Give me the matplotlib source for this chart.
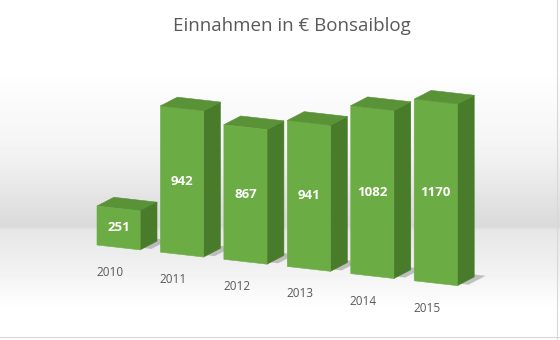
import matplotlib
matplotlib.use("Agg")
import matplotlib.pyplot as plt
from matplotlib.colors import to_rgba
from matplotlib.lines import Line2D
from matplotlib.text import Text
from mpl_toolkits.mplot3d import proj3d
import numpy as np

# --- data -----------------------------------------------------------------
YEARS = ["2010", "2011", "2012", "2013", "2014", "2015"]
VALUES = [251, 942, 867, 941, 1082, 1170]
TITLE = "Einnahmen in \u20ac Bonsaiblog"

# --- style ----------------------------------------------------------------
FRONT = "#6CAC45"
SIDE = "#487C2A"
TOP = "#5A9237"
TEXT_GREY = "#595959"

BAR_W = 0.68      # bar width in x units
BAR_D = 0.57      # bar depth in x units
PX_X = 70.0       # px per x unit
PX_Z = 0.16       # px per euro
ELEV, AZIM = 14, -65

W_PX, H_PX = 560, 340
S_PX = 330        # side of the (square) 3d axes in px

fig = plt.figure(figsize=(W_PX / 100, H_PX / 100), dpi=100)
fig.patch.set_facecolor("white")

# background: soft grey wall/floor gradient drawn straight onto the figure
rows = np.arange(H_PX)
grey = np.interp(rows, [0, 70, 150, 226, 230, 260, 310, 340],
                 [1.0, 1.0, 0.955, 0.855, 0.905, 0.935, 1.0, 1.0])
fig.figimage(np.repeat(grey[:, None], W_PX, axis=1), cmap="gray",
             vmin=0, vmax=1, origin="upper", zorder=0)
fig.add_artist(Line2D([1 - 3 / W_PX] * 2, [0, 1], color="#d8d8d8", lw=0.8))
fig.add_artist(Line2D([0, 1], [3 / H_PX] * 2, color="#d8d8d8", lw=0.8))

# 3d axes: orthographic view, scaled so 1 x unit = PX_X px
xlim = (-0.5, len(YEARS) - 0.5)
ylim = (0.0, 0.6)
zlim = (0.0, 1200.0)
unit = S_PX / 1.85
box = np.array([(xlim[1] - xlim[0]) * PX_X / unit,
                (ylim[1] - ylim[0]) * PX_X / unit,
                (zlim[1] - zlim[0]) * PX_Z / unit])
zoom = np.linalg.norm(box) / (1.8294640721620434 * 25 / 24)

# anchor: front-left-bottom corner of first bar at image px (97, 245)
e, a = np.deg2rad(ELEV), np.deg2rad(-AZIM)
cx = 2.5 + BAR_W / 2
right = cx * PX_X * np.sin(a) + 0.3 * PX_X * np.cos(a)
up = (-cx * PX_X * np.sin(e) * np.cos(a) + 0.3 * PX_X * np.sin(e) * np.sin(a)
      + 600 * PX_Z * np.cos(e))
ctr_x = 97 + right
ctr_y = H_PX - (245 - up)
frac = 0.095 / 0.185
left = (ctr_x - frac * S_PX) / W_PX
bottom = (ctr_y - frac * S_PX) / H_PX

ax = fig.add_axes([left, bottom, S_PX / W_PX, S_PX / H_PX],
                  projection="3d", computed_zorder=False, zorder=1)
ax.set_proj_type("ortho")
ax.view_init(elev=ELEV, azim=AZIM)
ax.set_xlim(*xlim)
ax.set_ylim(*ylim)
ax.set_zlim(*zlim)
ax.set_box_aspect(box, zoom=zoom)
ax.set_xticks([])
ax.set_yticks([])
ax.set_zticks([])
ax.set_axis_off()
ax.patch.set_alpha(0)

xs = np.arange(len(VALUES))
n = len(xs)
none = (0, 0, 0, 0)

# floor shadows
shadow = ax.bar3d(xs - BAR_W / 2 + 0.12, np.full(n, 0.12), np.zeros(n),
                  BAR_W, BAR_D, np.full(n, 1.0),
                  color=[to_rgba("#9a9a9a", 0.35)] * n, shade=False,
                  edgecolor="none", zorder=1)
shadow.set_clip_on(False)

# bars: faces are bottom, top, front, back, left, right
face_cols = []
for _ in VALUES:
    face_cols += [none, to_rgba(TOP), to_rgba(FRONT), none, none, to_rgba(SIDE)]
bars = ax.bar3d(xs - BAR_W / 2, np.zeros(n), np.zeros(n),
                BAR_W, BAR_D, VALUES, color=face_cols, shade=False,
                edgecolor=face_cols, linewidth=0.4, zorder=2)
bars.set_clip_on(False)

# hide the empty helper texts of the 3d axes (titles, labels, offsets)
for t in ax.findobj(Text):
    if not t.get_text():
        t.set_visible(False)

# labels: project the 3d anchor points to the 2d view and annotate there
M = ax.get_proj()
vx, vy, _ = proj3d.proj_transform(xs.astype(float), np.zeros(n),
                                  np.array(VALUES) / 2, M)
yx, yy, _ = proj3d.proj_transform(xs.astype(float), np.full(n, -0.3),
                                  np.full(n, -90.0), M)
for i, (v, yr) in enumerate(zip(VALUES, YEARS)):
    ax.annotate(str(v), (vx[i], vy[i]), ha="center", va="center",
                color="white", fontsize=9.5, fontweight="bold",
                family="Open Sans", annotation_clip=False, zorder=10)
    ax.annotate(yr, (yx[i], yy[i]), ha="center", va="top", color=TEXT_GREY,
                fontsize=8.5, family="Open Sans", annotation_clip=False,
                zorder=10)

fig.text(0.521, 1 - 26 / H_PX, TITLE, ha="center", va="center",
         fontsize=13.5, color=TEXT_GREY, family="Open Sans")

fig.savefig("out.png", dpi=100)
